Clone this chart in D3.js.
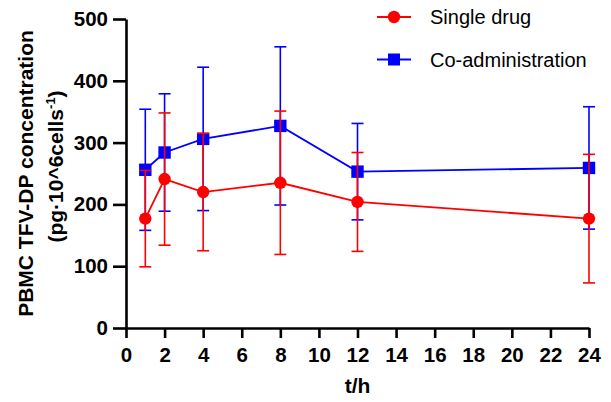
<!DOCTYPE html>
<html>
<head>
<meta charset="utf-8">
<script src="https://cdn.jsdelivr.net/npm/d3@7"></script>
<style>
body { margin: 0; background: #fff; }
text { font-family: "Liberation Sans", Arial, sans-serif; }
</style>
</head>
<body>
<script>
var w = 611;
var h = 402;

// sampling times (h)
var times = [1, 2, 4, 8, 12, 24];
// single drug: mean and SD
var singleMean = [177, 241, 220, 235, 204, 177];
var singleSD = [78, 107, 95, 116, 80, 104];
// co-administration: mean and SD
var coMean = [256, 284, 306, 327, 253, 259];
var coSD = [98, 95, 116, 128, 78, 99];
var xTicks = [0, 2, 4, 6, 8, 10, 12, 14, 16, 18, 20, 22, 24];
var yTicks = [0, 100, 200, 300, 400, 500];

var series = [
    {name: "Co-administration", mean: coMean, sd: coSD, color: "#0000ff", shape: "square"},
    {name: "Single drug", mean: singleMean, sd: singleSD, color: "#ff0000", shape: "circle"}
];

var x = d3.scaleLinear().domain([0, 24]).range([126, 589]);
var y = d3.scaleLinear().domain([0, 500]).range([328, 19]);

var svg = d3.select("body").append("svg")
    .attr("width", w)
    .attr("height", h);

// axes
var xAxis = svg.append("g")
    .attr("transform", "translate(0," + y(0) + ")")
    .call(d3.axisBottom(x).tickValues(xTicks).tickSize(10).tickSizeOuter(0).tickPadding(9));
var yAxis = svg.append("g")
    .attr("transform", "translate(" + x(0) + ",0)")
    .call(d3.axisLeft(y).tickValues(yTicks).tickSize(13).tickSizeOuter(0).tickPadding(5));

[xAxis, yAxis].forEach(function(g) {
    g.select(".domain").attr("stroke", "#000").attr("stroke-width", 2.6);
    g.selectAll(".tick line").attr("stroke", "#000").attr("stroke-width", 2.6);
    g.selectAll(".tick text")
        .attr("fill", "#000")
        .style("font-size", "20.5px")
        .style("font-weight", "bold")
        .style("font-family", "'Liberation Sans', Arial, sans-serif");
});

// axis titles
svg.append("text")
    .attr("x", (x(0) + x(24)) / 2)
    .attr("y", 393)
    .attr("text-anchor", "middle")
    .style("font-size", "21px")
    .style("font-weight", "bold")
    .text("t/h");

var yt = svg.append("text")
    .attr("transform", "translate(0," + ((y(0) + y(500)) / 2) + ") rotate(-90)")
    .attr("text-anchor", "middle")
    .style("font-size", "21px")
    .style("font-weight", "bold");
yt.append("tspan").attr("x", 0).attr("y", 33).text("PBMC TFV-DP concentration");
var l2 = yt.append("tspan").attr("x", 7).attr("y", 63);
l2.text("(pg\u00b710^6cells");
yt.append("tspan").attr("dy", -8).style("font-size", "13px").text("-1");
yt.append("tspan").attr("dy", 8).text(")");

// series
var cap = 6;
series.forEach(function(s) {
    var g = svg.append("g");
    var pts = times.map(function(t, i) { return {t: t, m: s.mean[i], sd: s.sd[i]}; });

    var line = d3.line().x(function(d) { return x(d.t); }).y(function(d) { return y(d.m); });
    g.append("path")
        .datum(pts)
        .attr("d", line)
        .attr("fill", "none")
        .attr("stroke", s.color)
        .attr("stroke-width", 1.8);

    var eb = g.selectAll(".eb").data(pts).enter().append("g");
    eb.append("line")
        .attr("x1", function(d) { return x(d.t); })
        .attr("x2", function(d) { return x(d.t); })
        .attr("y1", function(d) { return y(d.m - d.sd); })
        .attr("y2", function(d) { return y(d.m + d.sd); })
        .attr("stroke", s.color).attr("stroke-width", 1.6);
    [-1, 1].forEach(function(k) {
        eb.append("line")
            .attr("x1", function(d) { return x(d.t) - cap; })
            .attr("x2", function(d) { return x(d.t) + cap; })
            .attr("y1", function(d) { return y(d.m + k * d.sd); })
            .attr("y2", function(d) { return y(d.m + k * d.sd); })
            .attr("stroke", s.color).attr("stroke-width", 1.6);
    });

    if (s.shape == "circle") {
        g.selectAll("circle").data(pts).enter().append("circle")
            .attr("cx", function(d) { return x(d.t); })
            .attr("cy", function(d) { return y(d.m); })
            .attr("r", 6.2)
            .attr("fill", s.color);
    } else {
        g.selectAll("rect").data(pts).enter().append("rect")
            .attr("x", function(d) { return x(d.t) - 6.2; })
            .attr("y", function(d) { return y(d.m) - 6.2; })
            .attr("width", 12.4).attr("height", 12.4)
            .attr("fill", s.color);
    }
});

// legend
var legend = [series[1], series[0]];
legend.forEach(function(s, i) {
    var ly = 17 + i * 42.5;
    var g = svg.append("g");
    g.append("line")
        .attr("x1", 377).attr("x2", 411)
        .attr("y1", ly).attr("y2", ly)
        .attr("stroke", s.color).attr("stroke-width", 1.8);
    if (s.shape == "circle") {
        g.append("circle").attr("cx", 394).attr("cy", ly).attr("r", 6.2).attr("fill", s.color);
    } else {
        g.append("rect").attr("x", 394 - 6).attr("y", ly - 6).attr("width", 12).attr("height", 12).attr("fill", s.color);
    }
    g.append("text")
        .attr("x", 430)
        .attr("y", ly + 7)
        .style("font-size", "20px")
        .attr("fill", "#000")
        .text(s.name);
});
</script>
</body>
</html>
